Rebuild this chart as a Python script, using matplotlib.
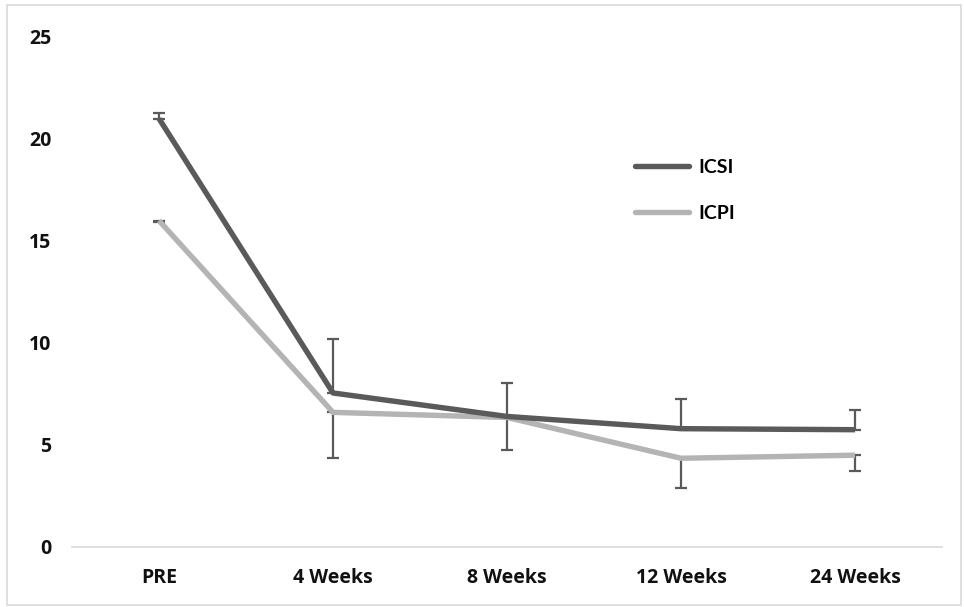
import matplotlib.pyplot as plt
import numpy as np
from matplotlib.patches import Rectangle

# data
categories = ["PRE", "4 Weeks", "8 Weeks", "12 Weeks", "24 Weeks"]
icsi = [21.0, 7.55, 6.4, 5.8, 5.75]
icsi_err_up = [0.25, 2.65, 1.65, 1.45, 0.95]
icpi = [16.0, 6.6, 6.35, 4.35, 4.5]
icpi_err_down = [0.05, 2.25, 1.6, 1.45, 0.75]

dark = "#5a5a5a"
light = "#b4b4b4"

fig = plt.figure(figsize=(9.64, 6.07), dpi=100)
fig.patches.append(Rectangle((0.007, 0.004), 0.99, 0.988, transform=fig.transFigure,
                             fill=False, edgecolor="#d9d9d9", linewidth=1.2))
ax = fig.add_axes([72 / 964, 1 - 547 / 607, 870 / 964, 510 / 607])

x = np.arange(len(categories))
zeros = np.zeros(len(categories))

ax.errorbar(x, icsi, yerr=[zeros, icsi_err_up], fmt="none", ecolor=dark,
            elinewidth=1.6, capsize=4.5, capthick=1.6, zorder=1)
ax.errorbar(x, icpi, yerr=[icpi_err_down, zeros], fmt="none", ecolor=dark,
            elinewidth=1.6, capsize=4.5, capthick=1.6, zorder=1)

ax.plot(x, icsi, color=dark, linewidth=3.9, solid_capstyle="butt", label="ICSI", zorder=3)
ax.plot(x, icpi, color=light, linewidth=3.9, solid_capstyle="butt", label="ICPI", zorder=2)

ax.set_xlim(-0.5, len(categories) - 0.5)
ax.set_ylim(0, 25)
ax.set_yticks([0, 5, 10, 15, 20, 25])
ax.set_xticks(x)
ax.set_xticklabels(categories)

for side in ["top", "right", "left"]:
    ax.spines[side].set_visible(False)
ax.spines["bottom"].set_color("#d9d9d9")
ax.spines["bottom"].set_linewidth(1.2)
ax.tick_params(axis="both", length=0, labelsize=14)
ax.tick_params(axis="y", pad=15)
ax.tick_params(axis="x", pad=15)
for lab in ax.get_xticklabels() + ax.get_yticklabels():
    lab.set_fontweight("bold")
    lab.set_family("Open Sans")
    lab.set_color("#111111")

leg = ax.legend(loc="upper left", bbox_to_anchor=(0.636, 0.78), frameon=False,
                borderpad=0, handlelength=2.8, labelspacing=1.5, handletextpad=0.45,
                prop={"family": "Lato", "weight": "bold", "size": 14})
for h in leg.get_lines():
    h.set_solid_capstyle("round")

fig.savefig("out.png", dpi=100)
